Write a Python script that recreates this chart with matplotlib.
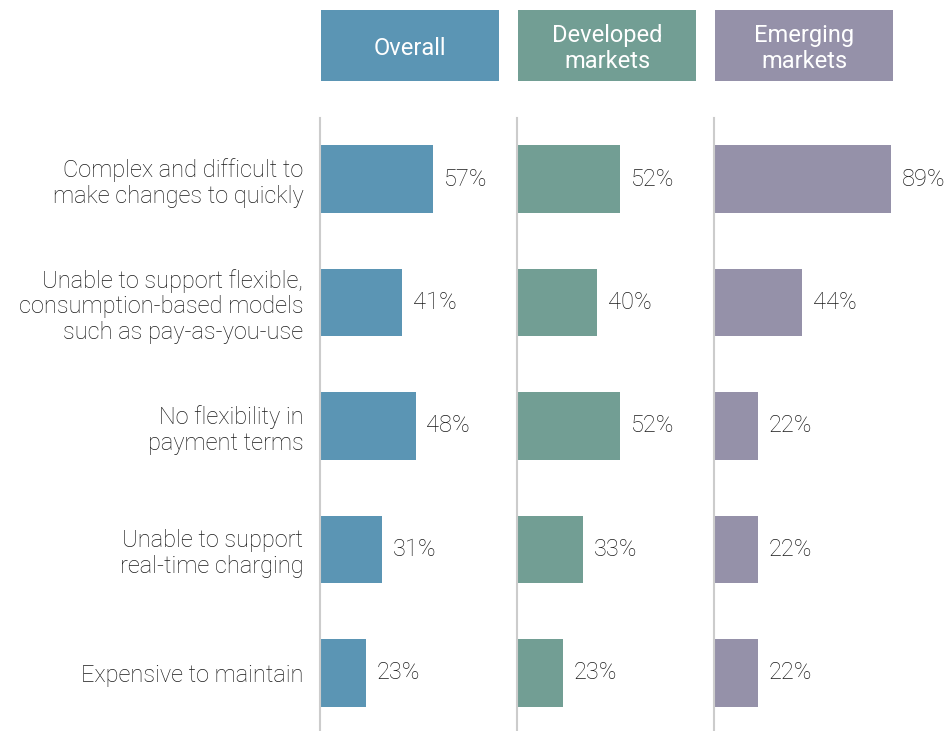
import matplotlib.pyplot as plt
from matplotlib.patches import Rectangle

plt.rcParams['font.family'] = ['Roboto', 'DejaVu Sans']

categories = [
    'Complex and difficult to\nmake changes to quickly',
    'Unable to support flexible,\nconsumption-based models\nsuch as pay-as-you-use',
    'No flexibility in\npayment terms',
    'Unable to support\nreal-time charging',
    'Expensive to maintain',
]
panels = ['Overall', 'Developed\nmarkets', 'Emerging\nmarkets']
overall = [57, 41, 48, 31, 23]
developed = [52, 40, 52, 33, 23]
emerging = [89, 44, 22, 22, 22]
series = [overall, developed, emerging]
colors = ['#5b95b4', '#729e94', '#9591a9']

W, H = 951, 731
fig = plt.figure(figsize=(W / 100, H / 100), dpi=100)

px_per_pct = 1.99
ax_w = 100 * px_per_pct
lefts = [320, 517, 714]
top, bottom = 118, 731
txt = '#1a1a1a'

for i, (vals, col, name) in enumerate(zip(series, colors, panels)):
    x0 = lefts[i]
    ax = fig.add_axes([x0 / W, 1 - bottom / H, ax_w / W, (bottom - top) / H])
    ax.patch.set_visible(False)
    ypos = list(range(len(vals)))
    ax.barh(ypos, vals, height=0.55, color=col)
    ax.set_xlim(0, 100)
    ax.set_ylim(4.47, -0.494)
    for s in ['top', 'right', 'bottom']:
        ax.spines[s].set_visible(False)
    ax.spines['left'].set_color('#cccccc')
    ax.spines['left'].set_linewidth(1.5)
    ax.set_xticks([])
    ax.tick_params(axis='y', length=0)
    if i == 0:
        ax.set_yticks(ypos)
        ax.set_yticklabels(categories, fontsize=17, color=txt,
                           linespacing=1.15, fontweight='light')
        ax.tick_params(axis='y', pad=12)
    else:
        ax.set_yticks([])
    for y, v in zip(ypos, vals):
        ax.text(v + 5.5, y, f'{v}%', va='center', ha='left', fontsize=17,
                color=txt, fontweight='light')

    # header box
    bx, bw = x0 + 1, 178
    fig.add_artist(Rectangle((bx / W, 1 - 81 / H), bw / W, 71 / H,
                             transform=fig.transFigure, color=col, lw=0))
    fig.text((bx + bw / 2) / W, 1 - 48.5 / H, name, ha='center', va='center',
             fontsize=17, color='white', linespacing=1.22)

fig.savefig('out.png', dpi=100)
